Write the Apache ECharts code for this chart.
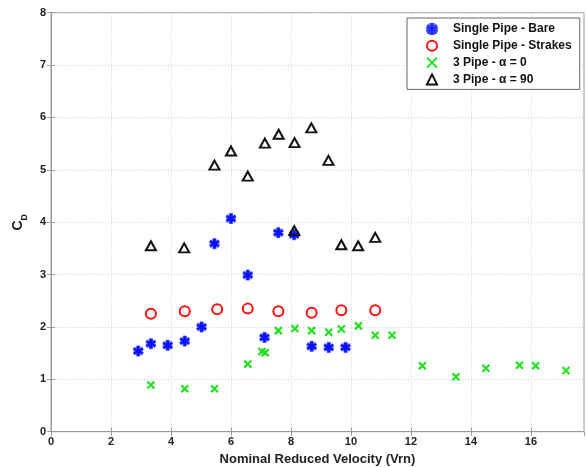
<!DOCTYPE html>
<html>
<head>
<meta charset="utf-8">
<script src="https://cdn.jsdelivr.net/npm/echarts@6/dist/echarts.min.js"></script>
<style>
html,body{margin:0;padding:0;background:#fff;}
#chart{width:587px;height:467px;}
</style>
</head>
<body>
<div id="chart"></div>
<script>
// Data
var bareX = [2.91, 3.33, 3.89, 4.46, 5.02, 5.45, 6.00, 6.56, 7.12, 7.58, 8.11, 8.69, 9.26, 9.82];
var bareY = [1.54, 1.68, 1.65, 1.73, 2.00, 3.59, 4.07, 2.99, 1.80, 3.80, 3.76, 1.63, 1.61, 1.61];

var strakesX = [3.33, 4.46, 5.54, 6.56, 7.58, 8.69, 9.68, 10.81];
var strakesY = [2.25, 2.30, 2.34, 2.35, 2.30, 2.27, 2.32, 2.32];

var alpha0X = [3.33, 4.46, 5.45, 6.56, 7.03, 7.14, 7.58, 8.13, 8.69, 9.26, 9.68, 10.25, 10.81, 11.37, 12.38, 13.50, 14.50, 15.62, 16.16, 17.17];
var alpha0Y = [0.89, 0.82, 0.82, 1.29, 1.53, 1.51, 1.93, 1.97, 1.93, 1.90, 1.96, 2.02, 1.84, 1.84, 1.26, 1.05, 1.21, 1.27, 1.26, 1.17];

var alpha90X = [3.33, 4.44, 5.45, 6.00, 6.56, 7.13, 7.59, 8.12, 8.68, 9.25, 8.11, 9.68, 10.24, 10.81];
var alpha90Y = [3.55, 3.51, 5.09, 5.36, 4.88, 5.51, 5.68, 5.52, 5.80, 5.18, 3.84, 3.57, 3.55, 3.71];

var seriesNames = ['Single Pipe - Bare', 'Single Pipe - Strakes', '3 Pipe - \u03b1 = 0', '3 Pipe - \u03b1 = 90'];
var xTicks = [0, 2, 4, 6, 8, 10, 12, 14, 16];
var yTicks = [0, 1, 2, 3, 4, 5, 6, 7, 8];

function pairs(xs, ys) { return xs.map(function (x, i) { return [x, ys[i]]; }); }

var starPath = 'path://M3.4,0 L6.6,0 L6.6,2.6 L8.9,1.3 L10,3.9 L7.8,5 L10,6.1 L8.9,8.7 L6.6,7.4 L6.6,10 L3.4,10 L3.4,7.4 L1.1,8.7 L0,6.1 L2.2,5 L0,3.9 L1.1,1.3 L3.4,2.6 Z';
var crossPath = 'path://M0,0 L10,10 M10,0 L0,10';

var font = 'Liberation Sans, Arial, sans-serif';
var axisGrey = '#9a9a9a';

var chart = echarts.init(document.getElementById('chart'), null, {renderer: 'canvas'});
var option = {
  animation: false,
  backgroundColor: '#fff',
  grid: {left: 51, right: 3, top: 12.7, bottom: 35.3, outerBoundsMode: 'none', containLabel: false,
    show: true, borderColor: axisGrey, borderWidth: 1, backgroundColor: '#fff'},
  legend: {
    orient: 'vertical',
    left: 407, top: 18,
    width: 180,
    backgroundColor: '#fff',
    borderColor: '#666',
    borderWidth: 1,
    borderRadius: 0,
    padding: [5, 8, 4, 19],
    itemGap: 4.8,
    itemWidth: 10, itemHeight: 10,
    textStyle: {fontFamily: font, fontWeight: 'bold', fontSize: 12, color: '#111', padding: [0, 0, 0, 11]},
    data: seriesNames
  },
  xAxis: [{
    type: 'value', min: 0, max: 17.77, interval: 2,
    name: 'Nominal Reduced Velocity (Vrn)', nameLocation: 'middle', nameGap: 21,
    nameTextStyle: {fontFamily: font, fontWeight: 'bold', fontSize: 13, color: '#222'},
    axisLine: {lineStyle: {color: axisGrey, width: 1}},
    axisTick: {inside: true, length: 4, lineStyle: {color: axisGrey}},
    axisLabel: {showMaxLabel: false, fontFamily: font, fontWeight: 'bold', fontSize: 11, color: '#222', margin: 5,
      formatter: function (v) { return xTicks.indexOf(v) >= 0 ? String(v) : ''; }},
    splitLine: {show: true, lineStyle: {color: '#d0d0d0', type: [1, 2], width: 1}}
  }, {
    type: 'value', min: 0, max: 17.77, interval: 2, position: 'top',
    axisLine: {show: false},
    axisTick: {inside: true, length: 4, lineStyle: {color: axisGrey}},
    axisLabel: {show: false}, splitLine: {show: false}
  }],
  yAxis: [{
    type: 'value', min: 0, max: 8, interval: 1,
    name: '{c|C}{d|D}', nameLocation: 'middle', nameGap: 16, nameRotate: 90,
    nameTextStyle: {fontFamily: font, fontWeight: 'bold', fontSize: 13, color: '#222',
      rich: {c: {fontFamily: font, fontWeight: 'bold', fontSize: 14, color: '#222', padding: [0, 0, 4, 0]},
             d: {fontFamily: font, fontWeight: 'bold', fontSize: 9, color: '#222', verticalAlign: 'bottom'}}},
    axisLine: {show: true, lineStyle: {color: axisGrey, width: 1}},
    axisTick: {show: true, inside: true, length: 4, lineStyle: {color: axisGrey}},
    axisLabel: {fontFamily: font, fontWeight: 'bold', fontSize: 11, color: '#222', margin: 5},
    splitLine: {show: true, lineStyle: {color: '#d0d0d0', type: [1, 2], width: 1}}
  }, {
    type: 'value', min: 0, max: 8, interval: 1, position: 'right',
    axisLine: {show: false},
    axisTick: {show: true, inside: true, length: 4, lineStyle: {color: axisGrey}},
    axisLabel: {show: false}, splitLine: {show: false}
  }],
  series: [{
    name: seriesNames[0], type: 'scatter', data: pairs(bareX, bareY),
    symbol: starPath, symbolSize: 10,
    itemStyle: {color: '#0a10ff', borderColor: '#3040ff', borderWidth: 0.8, opacity: 1}
  }, {
    name: seriesNames[1], type: 'scatter', data: pairs(strakesX, strakesY),
    symbol: 'circle', symbolSize: 10,
    itemStyle: {color: 'rgba(255,255,255,0)', borderColor: '#ff1010', borderWidth: 2, opacity: 1}
  }, {
    name: seriesNames[2], type: 'scatter', data: pairs(alpha0X, alpha0Y),
    symbol: crossPath, symbolSize: 7,
    itemStyle: {color: 'rgba(0,0,0,0)', borderColor: '#22e022', borderWidth: 2.2, opacity: 1}
  }, {
    name: seriesNames[3], type: 'scatter', data: pairs(alpha90X, alpha90Y),
    symbol: 'triangle', symbolSize: [10, 9],
    itemStyle: {color: 'rgba(255,255,255,0)', borderColor: '#111', borderWidth: 2, opacity: 1}
  }]
};
chart.setOption(option);
</script>
</body>
</html>
